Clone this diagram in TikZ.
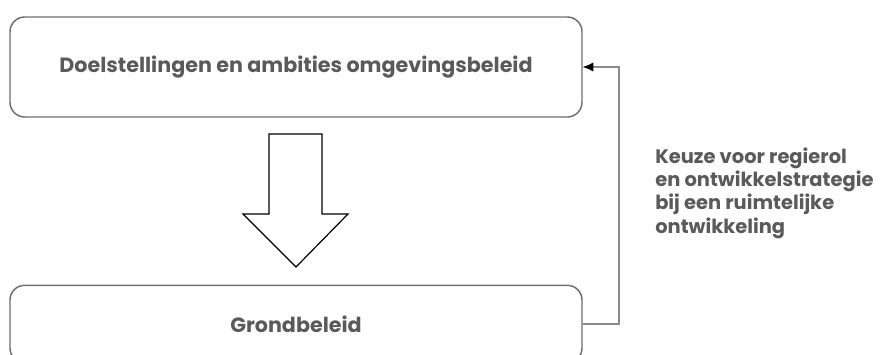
\documentclass[tikz,border=0pt]{standalone}
\usepackage{fontspec}
\setmainfont{Poppins}
\usepackage{xcolor}
\definecolor{textgray}{HTML}{5A5A5A}
\definecolor{boxgray}{HTML}{6E6E6E}
\definecolor{linegray}{HTML}{8A8A8A}
\usetikzlibrary{arrows.meta}

\begin{document}
\begin{tikzpicture}[x=0.75pt, y=-0.75pt,
        box/.style={draw=boxgray, line width=1.1pt, rounded corners=11pt,
            minimum width=429pt, text=textgray, font=\bfseries\fontsize{15.5}{18}\selectfont},
        conn/.style={draw=linegray, line width=0.8pt, -{Latex[length=8pt, width=7pt, black]}}]
            \useasboundingbox (0, 0) rectangle (890, 354);
            \clip (0, 0) rectangle (890, 354);

            \node[box, minimum height=75pt] (doel) at (296, 67) {Doelstellingen en ambities omgevingsbeleid};
            \node[box, minimum height=58pt] (grond) at (296, 324) {Grondbeleid};

            % hollow arrow between the boxes
            \draw[line width=0.9pt, line join=miter] (269, 134) -- (322, 134) -- (322, 214) -- (348, 214)
                -- (296, 267) -- (243, 214) -- (269, 214) -- cycle;

            \coordinate (bend) at (619, 324);
            \draw[conn] (grond.east) -- (bend) |- (doel.east);

            \node[anchor=north west, align=left, text=textgray, inner sep=0pt,
                font=\bfseries\fontsize{14.6}{17.3}\selectfont] (keuze) at (655, 148)
                {Keuze voor regierol\\en ontwikkelstrategie\\bij een ruimtelijke\\ontwikkeling};
        \end{tikzpicture}
\end{document}
